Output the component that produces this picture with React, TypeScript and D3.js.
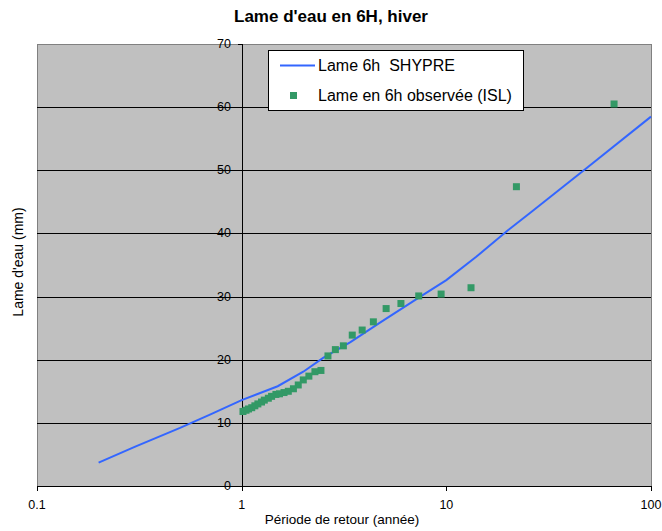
import React from "react";
import * as d3 from "d3";

const title = "Lame d'eau en 6H, hiver";
const xLabel = "Période de retour (année)";
const yLabel = "Lame d'eau (mm)";
const legendLine = "Lame 6h  SHYPRE";
const legendPts = "Lame en 6h observée (ISL)";

const xTicks = [0.1, 1, 10, 100];
const xTickLabels = ["0.1", "1", "10", "100"];
const yTicks = [0, 10, 20, 30, 40, 50, 60, 70];

// SHYPRE curve (return period, mm)
const shypreT = [0.2, 0.3, 0.5, 0.7, 1, 1.5, 2, 2.5, 3.4, 4.7, 7.4, 10, 14, 20, 26, 47, 100];
const shypreV = [3.7, 6.2, 9.2, 11.3, 13.6, 15.8, 18.1, 20.3, 22.8, 25.8, 29.9, 32.6, 36.3, 40.5, 43.4, 50, 58.5];

// Observed (ISL)
const obsT = [66, 22, 13.2, 9.43, 7.33, 6.0, 5.08, 4.4, 3.88, 3.47, 3.14, 2.87, 2.64, 2.44, 2.28, 2.13, 2.0, 1.89, 1.79, 1.69, 1.61, 1.53, 1.47, 1.40, 1.35, 1.29, 1.25, 1.20, 1.16, 1.12, 1.08, 1.05, 1.015];
const obsV = [60.5, 47.4, 31.4, 30.4, 30.1, 28.9, 28.1, 26.0, 24.7, 23.9, 22.2, 21.6, 20.6, 18.3, 18.1, 17.4, 16.8, 16.0, 15.4, 15.0, 14.8, 14.6, 14.5, 14.2, 13.9, 13.6, 13.3, 13.0, 12.7, 12.4, 12.2, 12.0, 11.8];

const W = 662;
const H = 531;
const left = 37, right = 651, top = 44, bottom = 486;
const font = "'Liberation Sans', Arial, sans-serif";
const lineColor = "#3366FF";
const ptColor = "#339966";

export default function App() {
  const x = d3.scaleLog().domain([0.1, 100]).range([left, right]);
  const y = d3.scaleLinear().domain([0, 70]).range([bottom, top]);
  const line = d3
    .line<number>()
    .x((_, i) => x(shypreT[i]))
    .y((d) => y(d));
  const x1 = x(1);
  const sq = 7;

  return (
    <svg
      width={W}
      height={H}
      style={{ position: "absolute", left: 0, top: 0, background: "#fff" }}
      fontFamily={font}
    >
      <text x={331} y={22} textAnchor="middle" fontSize={17} fontWeight="bold">
        {title}
      </text>
      <rect x={left + 0.5} y={top + 0.5} width={right - left} height={bottom - top} fill="#C0C0C0" stroke="#808080" strokeWidth={1} />
      {yTicks.filter((t) => t > 0 && t < 70).map((t) => (
        <line key={t} x1={left} x2={right} y1={Math.round(y(t)) + 0.5} y2={Math.round(y(t)) + 0.5} stroke="#000" strokeWidth={1} />
      ))}
      {/* x axis */}
      <line x1={left} x2={right} y1={bottom + 0.5} y2={bottom + 0.5} stroke="#000" />
      {xTicks.map((t) => (
        <line key={t} x1={Math.round(x(t)) + 0.5} x2={Math.round(x(t)) + 0.5} y1={bottom} y2={bottom + 5} stroke="#000" />
      ))}
      {xTicks.map((t, i) => (
        <text key={t} x={x(t)} y={bottom + 23} textAnchor="middle" fontSize={12.5}>
          {xTickLabels[i]}
        </text>
      ))}
      {/* y axis at x = 1 */}
      <line x1={Math.round(x1) + 0.5} x2={Math.round(x1) + 0.5} y1={top} y2={bottom + 4} stroke="#000" />
      {yTicks.map((t) => (
        <line key={t} x1={Math.round(x1) - 4} x2={Math.round(x1)} y1={Math.round(y(t)) + 0.5} y2={Math.round(y(t)) + 0.5} stroke="#000" />
      ))}
      {yTicks.map((t) => (
        <text key={t} x={Math.round(x1) - 11} y={y(t) + 4} textAnchor="end" fontSize={12.5}>
          {t}
        </text>
      ))}
      <path d={line(shypreV) || ""} fill="none" stroke={lineColor} strokeWidth={2} />
      {obsV.map((v, i) => (
        <rect key={i} x={x(obsT[i]) - sq / 2} y={y(v) - sq / 2} width={sq} height={sq} fill={ptColor} />
      ))}
      {/* legend */}
      <rect x={268.5} y={50.5} width={255} height={60} fill="#fff" stroke="#000" />
      <line x1={280} x2={315} y1={65.5} y2={65.5} stroke={lineColor} strokeWidth={2} />
      <text x={318} y={71} fontSize={16} style={{ whiteSpace: "pre" }}>{legendLine}</text>
      <rect x={290} y={92} width={sq} height={sq} fill={ptColor} />
      <text x={318} y={101} fontSize={16}>{legendPts}</text>
      <text x={342} y={524} textAnchor="middle" fontSize={13.5}>
        {xLabel}
      </text>
      <text transform={`translate(23,262) rotate(-90)`} textAnchor="middle" fontSize={14}>
        {yLabel}
      </text>
    </svg>
  );
}
